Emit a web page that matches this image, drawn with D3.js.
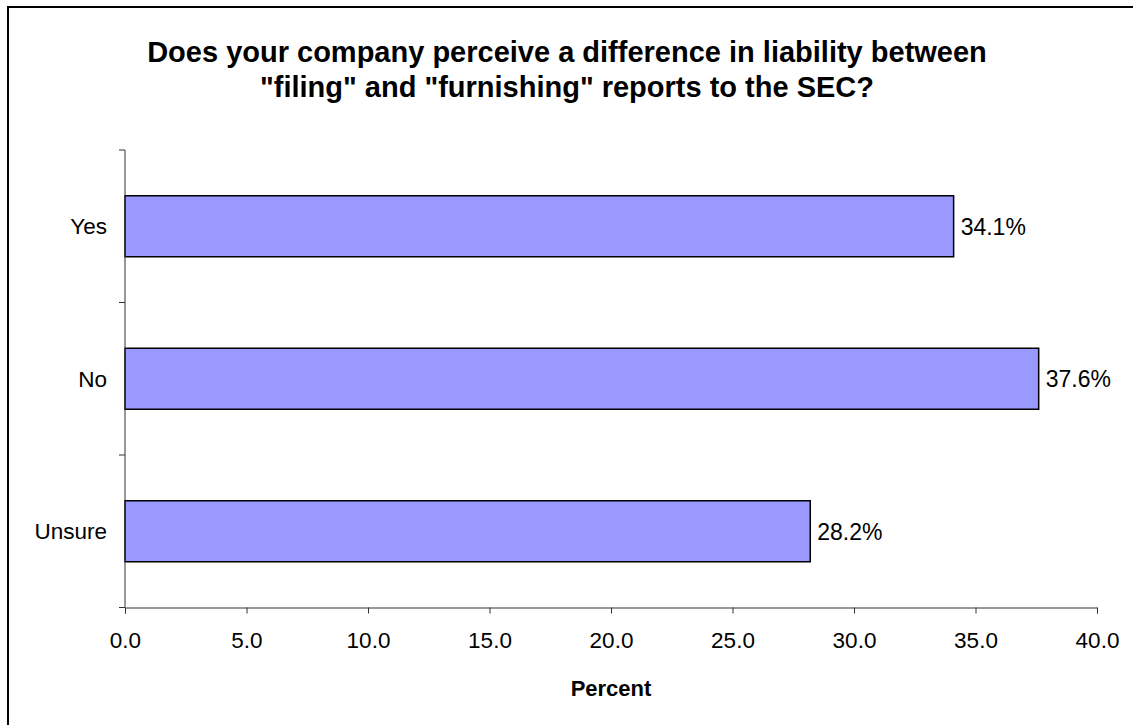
<!DOCTYPE html>
<html>
<head>
<meta charset="utf-8">
<script src="https://cdn.jsdelivr.net/npm/d3@7"></script>
<style>
  body { margin: 0; background: #fff; }
  svg { display: block; font-family: "Liberation Sans", Arial, sans-serif; }
</style>
</head>
<body>
<div id="chart"></div>
<script>
// chart data
var categories = ["Yes", "No", "Unsure"];
var values = [34.1, 37.6, 28.2];
var xTicks = [0, 5, 10, 15, 20, 25, 30, 35, 40];
var titleLines = ["Does your company perceive a difference in liability between",
                  "\"filing\" and \"furnishing\" reports to the SEC?"];
var xTitle = "Percent";

(function() {
var width = 1133, height = 725;
var plotLeft = 125, plotRight = 1097, plotTop = 150, plotBottom = 607.5;

var svg = d3.select("#chart").append("svg")
    .attr("width", width)
    .attr("height", height);

// outer frame (right/bottom edges fall outside the picture)
svg.append("rect")
    .attr("x", 8).attr("y", 7)
    .attr("width", 1140).attr("height", 740)
    .attr("fill", "none")
    .attr("stroke", "#000")
    .attr("stroke-width", 2);

var x = d3.scaleLinear().domain([0, 40]).range([plotLeft, plotRight]);
var y = d3.scaleBand().domain(categories).range([plotTop, plotBottom])
    .paddingInner(0.6).paddingOuter(0.3);

// title
svg.append("text")
    .attr("x", 567).attr("y", 62)
    .attr("text-anchor", "middle")
    .attr("font-size", 29).attr("font-weight", "bold")
    .selectAll("tspan")
    .data(titleLines)
    .enter().append("tspan")
    .attr("x", 567)
    .attr("dy", function(d, i) { return i ? 35 : 0; })
    .text(function(d) { return d; });

// bars
svg.append("g").selectAll("rect")
    .data(values)
    .enter().append("rect")
    .attr("x", x(0))
    .attr("y", function(d, i) { return y(categories[i]); })
    .attr("width", function(d) { return x(d) - x(0); })
    .attr("height", y.bandwidth())
    .attr("fill", "#9999ff")
    .attr("stroke", "#000")
    .attr("stroke-width", 1.5);

// value labels
svg.append("g").selectAll("text")
    .data(values)
    .enter().append("text")
    .attr("x", function(d) { return x(d) + 7; })
    .attr("y", function(d, i) { return y(categories[i]) + y.bandwidth() / 2; })
    .attr("dy", "0.36em")
    .attr("font-size", 23)
    .text(function(d) { return d.toFixed(1) + "%"; });

// x axis
var xAxis = svg.append("g")
    .attr("transform", "translate(0," + plotBottom + ")")
    .call(d3.axisBottom(x).tickValues(xTicks).tickSize(6).tickPadding(19)
        .tickFormat(d3.format(".1f")));
xAxis.select(".domain").attr("stroke", "#333");
xAxis.selectAll(".tick line").attr("stroke", "#333");
xAxis.selectAll("text")
    .attr("font-size", 22.5)
    .attr("font-family", "\"Liberation Sans\", Arial, sans-serif")
    .attr("fill", "#000");

// y axis: ticks sit between categories
var yAxis = svg.append("g")
    .attr("transform", "translate(" + plotLeft + ",0)");
yAxis.append("line")
    .attr("x1", 0).attr("x2", 0)
    .attr("y1", plotTop).attr("y2", plotBottom)
    .attr("stroke", "#333");
var bounds = d3.range(categories.length + 1).map(function(i) {
    return plotTop + i * (plotBottom - plotTop) / categories.length;
});
yAxis.selectAll("line.tk")
    .data(bounds)
    .enter().append("line")
    .attr("class", "tk")
    .attr("x1", -6).attr("x2", 0)
    .attr("y1", function(d) { return d; })
    .attr("y2", function(d) { return d; })
    .attr("stroke", "#333");
yAxis.selectAll("text")
    .data(categories)
    .enter().append("text")
    .attr("x", -18)
    .attr("y", function(d) { return y(d) + y.bandwidth() / 2; })
    .attr("dy", "0.36em")
    .attr("text-anchor", "end")
    .attr("font-size", 22.5)
    .text(function(d) { return d; });

// x axis title
svg.append("text")
    .attr("x", (plotLeft + plotRight) / 2)
    .attr("y", 696)
    .attr("text-anchor", "middle")
    .attr("font-size", 22)
    .attr("font-weight", "bold")
    .text(xTitle);
})();
</script>
</body>
</html>
